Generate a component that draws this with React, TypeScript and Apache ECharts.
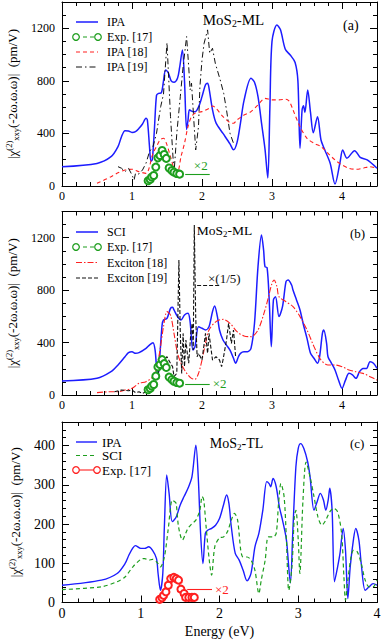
import React, { useEffect, useRef } from 'react';
import * as echarts from 'echarts';

const FONT = 'Liberation Serif, serif';
const BLUE = '#1c1cff';
const RED = '#ff2020';
const GREEN = '#1e9e1e';
const BLACK = '#111111';

// ---------- Panel (a): MoS2-ML ----------
const aIpaE = [0,0.5,0.7,0.8,0.85,0.9,0.95,1.0,1.05,1.1,1.15,1.2,1.22,1.25,1.27,1.29,1.32,1.35,1.38,1.42,1.45,1.48,1.52,1.56,1.6,1.65,1.68,1.72,1.75,1.78,1.8,1.82,1.85,1.9,1.95,2.0,2.05,2.08,2.1,2.15,2.2,2.3,2.4,2.45,2.5,2.55,2.6,2.7,2.75,2.8,2.85,2.9,2.94,2.97,3.0,3.07,3.12,3.19,3.26,3.33,3.37,3.4,3.43,3.45,3.47,3.51,3.55,3.59,3.65,3.7,3.75,3.83,3.9,3.97,4.01,4.07,4.18,4.26,4.36,4.5];
const aIpaV = [147,172,223,300,375,421,418,408,414,439,472,515,500,300,190,200,430,690,705,710,800,883,860,800,790,820,900,1035,800,430,500,580,570,565,600,680,770,782,745,580,480,400,320,275,330,480,650,820,790,680,480,280,60,600,1100,1225,1190,1040,997,940,800,288,580,610,560,730,560,406,527,350,280,175,15,175,274,212,269,218,198,135];

const aIpa18E = [0.5,0.7,0.8,0.9,1.0,1.1,1.2,1.3,1.35,1.4,1.45,1.5,1.55,1.6,1.65,1.7,1.75,1.8,1.85,1.9,2.0,2.1,2.15,2.2,2.3,2.4,2.45,2.5,2.6,2.7,2.8,2.9,3.0,3.1,3.2,3.25,3.3,3.4,3.5,3.6,3.7,3.8,3.9,4.0,4.1,4.2,4.3,4.4,4.5];
const aIpa18V = [20,71,101,122,127,109,96,249,300,350,363,312,223,135,109,223,325,452,528,553,566,591,609,591,528,482,477,503,540,566,617,667,655,655,660,642,579,452,363,325,300,249,198,160,135,127,135,147,135];

const aIpa19E = [0.8,0.85,0.9,0.95,1.0,1.03,1.05,1.1,1.15,1.2,1.25,1.3,1.35,1.41,1.45,1.5,1.55,1.6,1.64,1.69,1.73,1.78,1.81,1.83,1.85,1.88,1.91,1.95,1.97,2.0,2.03,2.08,2.11,2.15,2.19,2.26,2.31,2.35,2.4,2.45];
const aIpa19V = [147,135,109,135,84,46,96,91,122,173,261,300,401,604,700,1091,528,96,401,680,908,1137,908,731,782,528,274,452,756,959,1086,1188,1010,1048,934,807,705,579,401,325];

// Experiment [17] (x2), monolayer
const expE = [1.23,1.26,1.28,1.31,1.34,1.37,1.40,1.43,1.46,1.49,1.53,1.57,1.60,1.64,1.68];
const expV = [40,50,68,80,144,214,232,270,240,210,137,118,105,95,90];

// ---------- Panel (b): MoS2-ML ----------
const bSciE = [0,0.5,0.7,0.8,0.9,0.95,1.0,1.05,1.1,1.2,1.25,1.3,1.33,1.35,1.37,1.4,1.43,1.45,1.5,1.55,1.58,1.6,1.65,1.7,1.75,1.8,1.83,1.87,1.9,1.95,2.0,2.05,2.1,2.15,2.18,2.22,2.25,2.3,2.35,2.4,2.45,2.48,2.52,2.55,2.6,2.65,2.7,2.75,2.8,2.85,2.88,2.9,2.93,2.96,2.99,3.02,3.05,3.1,3.15,3.2,3.23,3.28,3.3,3.35,3.4,3.45,3.5,3.55,3.6,3.65,3.68,3.72,3.74,3.78,3.8,3.85,3.9,3.95,4.0,4.05,4.1,4.15,4.2,4.25,4.3,4.35,4.4,4.45,4.5];
const bSciV = [107,127,178,229,292,323,330,318,323,356,381,399,343,216,140,318,534,572,585,661,669,649,598,572,610,623,560,343,369,521,509,496,521,636,679,598,496,420,381,343,280,242,292,318,330,330,356,547,979,1221,1106,979,972,725,369,725,750,598,674,865,877,839,801,725,649,534,432,318,280,242,292,470,496,394,292,242,191,114,51,114,165,153,127,178,203,203,254,242,203];

const bExc18E = [0.5,0.7,0.8,0.9,1.0,1.1,1.2,1.3,1.35,1.4,1.45,1.5,1.55,1.6,1.65,1.7,1.75,1.8,1.85,1.9,1.95,2.0,2.05,2.1,2.2,2.3,2.4,2.5,2.6,2.7,2.8,2.9,2.95,3.0,3.03,3.07,3.1,3.2,3.3,3.4,3.5,3.6,3.7,3.8,3.9,4.0,4.1,4.2,4.3,4.4,4.5];
const bExc18V = [18,25,25,38,51,89,102,140,203,343,521,636,610,470,318,242,191,153,127,120,165,267,394,496,560,577,547,483,450,445,496,649,750,852,877,827,750,712,674,598,496,369,267,229,229,216,191,178,165,140,114];

const bExc19E = [0.75,0.85,0.95,1.0,1.05,1.1,1.15,1.2,1.25,1.3,1.35,1.4,1.45,1.5,1.55,1.58,1.6,1.64,1.67,1.69,1.71,1.73,1.75,1.77,1.79,1.81,1.84,1.86,1.875,1.89,1.91,1.93,1.95,2.0,2.05,2.08,2.1,2.15,2.2,2.25,2.28,2.3,2.35,2.38,2.42,2.45,2.48];
const bExc19V = [25,38,33,38,18,25,13,25,64,102,140,203,267,292,242,216,140,165,1030,470,165,470,216,420,318,242,470,547,343,1297,598,292,318,267,470,318,470,267,292,267,216,267,420,547,394,496,292];

// ---------- Panel (c): MoS2-TL ----------
const cIpaE = [0,0.5,0.7,0.8,0.85,0.9,0.93,1.0,1.05,1.1,1.15,1.2,1.22,1.25,1.28,1.3,1.33,1.36,1.4,1.45,1.5,1.55,1.6,1.65,1.7,1.73,1.76,1.79,1.82,1.85,1.9,1.95,2.0,2.05,2.09,2.12,2.15,2.2,2.25,2.3,2.35,2.4,2.45,2.5,2.55,2.6,2.63,2.65,2.68,2.72,2.76,2.8,2.85,2.9,2.93,2.97,3.0,3.03,3.07,3.12,3.15,3.2,3.24,3.28,3.32,3.35,3.38,3.4,3.43,3.46,3.5,3.53,3.57,3.6,3.63,3.66,3.7,3.73,3.77,3.8,3.85,3.9,3.95,4.0];
const cIpaV = [44,57,74,99,121,139,145,138,138,142,133,112,74,31,74,193,325,278,206,218,248,270,291,320,401,320,176,99,176,184,189,197,214,248,274,252,193,125,108,82,55,74,142,176,235,308,303,295,316,295,244,210,159,50,176,346,393,405,393,358,320,235,257,278,261,235,261,291,235,53,91,125,189,133,10,91,159,189,159,99,31,40,48,44];

const cSciE = [0,0.5,0.7,0.8,0.9,1.0,1.05,1.1,1.15,1.2,1.25,1.3,1.35,1.4,1.43,1.45,1.48,1.53,1.57,1.6,1.65,1.7,1.75,1.78,1.8,1.83,1.87,1.9,1.94,2.0,2.05,2.1,2.15,2.19,2.23,2.27,2.3,2.35,2.4,2.45,2.5,2.53,2.58,2.62,2.68,2.72,2.75,2.78,2.82,2.85,2.88,2.92,2.95,2.97,3.0,3.02,3.06,3.1,3.15,3.2,3.25,3.3,3.35,3.4,3.45,3.5,3.55,3.58,3.6,3.63,3.67,3.7,3.75,3.8,3.85,3.9,3.95,4.0];
const cSciV = [33,40,53,65,91,110,112,108,110,104,91,116,189,261,257,252,193,159,176,189,201,210,235,270,261,193,108,70,142,165,167,180,210,227,210,133,116,116,108,82,23,57,108,167,167,176,252,303,270,159,31,91,218,235,159,74,261,358,320,270,218,197,210,231,240,231,176,65,6,57,116,133,129,99,57,40,40,57];

const cExpE = [1.24,1.27,1.29,1.32,1.35,1.38,1.42,1.45,1.48,1.51,1.55,1.57,1.61,1.65,1.68];
const cExpV = [8,12,18,27,44,61,64,61,57,34,23,13,13,13,13];

// axis ranges / ticks
const abXMax = 4.5;
const cXMax = 4;
const abYMax = 1400;
const cYMax = 460;

const pairs = (xs: number[], ys: number[]) => xs.map((x, i) => [x, ys[i]]);

const Y_NAME = '{t||χ}{sp|(2)}{sb|xxy}{t|(-2ω.ω.ω)|  (pm/V)}';

function xAxes(grid: number, max: number, fontSize: number, name?: string) {
  const common: any = { type: 'value', gridIndex: grid, min: 0, max, splitLine: { show: false } };
  const line = { show: true, onZero: false, lineStyle: { color: '#000', width: 1 } };
  const noLine = { show: false, onZero: false };
  const tick = (len: number) => ({ show: true, inside: true, length: len, lineStyle: { color: '#000', width: 1 } });
  return [
    {
      ...common, position: 'bottom', interval: 1, axisLine: line, axisTick: tick(7),
      axisLabel: { show: true, color: '#000', fontFamily: FONT, fontSize, margin: 4,
        formatter: (v: number) => (Math.abs(v - Math.round(v)) < 1e-6 ? String(Math.round(v)) : '') },
      name: name || '', nameLocation: 'middle', nameGap: 22,
      nameTextStyle: { color: '#000', fontFamily: FONT, fontSize: 14 },
    },
    { ...common, position: 'bottom', interval: 0.2, axisLine: noLine, axisTick: tick(4), axisLabel: { show: false } },
    { ...common, position: 'top', interval: 1, axisLine: line, axisTick: tick(7), axisLabel: { show: false } },
    { ...common, position: 'top', interval: 0.2, axisLine: noLine, axisTick: tick(4), axisLabel: { show: false } },
  ];
}

function yAxes(grid: number, max: number, major: number, minor: number, fontSize: number) {
  const common: any = { type: 'value', gridIndex: grid, min: 0, max, splitLine: { show: false } };
  const line = { show: true, onZero: false, lineStyle: { color: '#000', width: 1 } };
  const noLine = { show: false, onZero: false };
  const tick = (len: number) => ({ show: true, inside: true, length: len, lineStyle: { color: '#000', width: 1 } });
  return [
    {
      ...common, position: 'left', interval: major, axisLine: line, axisTick: tick(7),
      axisLabel: { show: true, color: '#000', fontFamily: FONT, fontSize, margin: 7,
        formatter: (v: number) => (Math.abs(v % major) < 1e-6 ? String(v) : '') },
      name: Y_NAME, nameLocation: 'middle', nameGap: 37, nameRotate: 90,
      nameTextStyle: {
        color: '#000', fontFamily: FONT, fontSize: 13,
        rich: {
          t: { color: '#000', fontFamily: FONT, fontSize: 13 },
          sp: { color: '#000', fontFamily: FONT, fontSize: 8.5, padding: [0, 0, 7, 0] },
          sb: { color: '#000', fontFamily: FONT, fontSize: 8.5, padding: [7, 0, 0, 0] },
        },
      },
    },
    { ...common, position: 'left', interval: minor, axisLine: noLine, axisTick: tick(4), axisLabel: { show: false } },
    { ...common, position: 'right', interval: major, axisLine: line, axisTick: tick(7), axisLabel: { show: false } },
    { ...common, position: 'right', interval: minor, axisLine: noLine, axisTick: tick(4), axisLabel: { show: false } },
  ];
}

function lineSeries(grid: number, data: number[][], color: string, width: number, type: any, smooth: any, extra: any = {}) {
  return {
    type: 'line', xAxisIndex: grid * 4, yAxisIndex: grid * 4, data,
    showSymbol: false, symbol: 'none', smooth,
    lineStyle: { color, width, type },
    itemStyle: { color },
    silent: true,
    ...extra,
  };
}

function expSeries(grid: number, data: number[][], color: string, lineType: any, arrow: any) {
  return {
    type: 'line', xAxisIndex: grid * 4, yAxisIndex: grid * 4, data,
    symbol: 'emptyCircle', symbolSize: 7, showSymbol: true, smooth: false,
    lineStyle: { color, width: 1.1, type: lineType },
    itemStyle: { color, borderColor: color, borderWidth: 1.2 },
    silent: true,
    markLine: arrow,
  };
}

function arrowMark(color: string, x1: number, x2: number, y: number, text: string, label: any, lineType: any = 'solid') {
  return {
    silent: true,
    symbol: ['arrow', 'none'],
    symbolSize: [8, 0],
    lineStyle: { color, width: 1.1, type: lineType },
    emphasis: { disabled: true },
    label: { show: !!text, formatter: text, color, fontFamily: FONT, fontSize: 13, ...label },
    data: [[{ coord: [x1, y] }, { coord: [x2, y] }]],
  };
}

// legend / annotation graphics (decorations only)
function legendGraphics(rows: any[], x1: number, x2: number, tx: number, fontSize: number) {
  const els: any[] = [];
  rows.forEach((r) => {
    els.push({
      type: 'line', silent: true,
      shape: { x1, y1: r.y, x2, y2: r.y },
      style: { stroke: r.color, lineWidth: r.width, lineDash: r.dash || null },
    });
    if (r.circles) {
      [x1, x2].forEach((cx) =>
        els.push({
          type: 'circle', silent: true, shape: { cx, cy: r.y, r: 3.3 },
          style: { fill: '#fff', stroke: r.color, lineWidth: 1.2 },
        })
      );
    }
    els.push({
      type: 'text', silent: true, x: tx, y: r.y,
      style: { text: r.label, fill: '#000', font: `${fontSize}px ${FONT}`, align: 'left', verticalAlign: 'middle' },
    });
  });
  return els;
}

function titleText(x: number, y: number, b: string, fontSize: number) {
  return {
    type: 'text', silent: true, x, y,
    style: {
      text: `{m|MoS}{s|2}{m|${b}}`,
      align: 'center', verticalAlign: 'middle',
      rich: {
        m: { fontFamily: FONT, fontSize, fill: '#000', color: '#000' },
        s: { fontFamily: FONT, fontSize: fontSize * 0.65, fill: '#000', color: '#000', padding: [7, 0, 0, 0] },
      },
      fill: '#000',
    },
  };
}

function tagText(x: number, y: number, t: string, fontSize: number, color = '#000') {
  return {
    type: 'text', silent: true, x, y,
    style: { text: t, fill: color, font: `${fontSize}px ${FONT}`, align: 'left', verticalAlign: 'middle' },
  };
}

export default function App() {
  const ref = useRef<HTMLDivElement>(null);

  useEffect(() => {
    if (!ref.current) return;
    const chart = echarts.init(ref.current, undefined, { renderer: 'svg' });

    const dashA = [4, 3];
    const dashDot = [6, 3, 1.5, 3];

    const option: any = {
      animation: false,
      backgroundColor: '#fff',
      textStyle: { fontFamily: FONT },
      grid: [
        { left: 62, top: 2, width: 315, height: 184, outerBoundsMode: 'none', containLabel: false },
        { left: 62, top: 211.5, width: 315, height: 183.5, outerBoundsMode: 'none', containLabel: false },
        { left: 62, top: 422, width: 315, height: 180.5, outerBoundsMode: 'none', containLabel: false },
      ],
      xAxis: [
        ...xAxes(0, abXMax, 12),
        ...xAxes(1, abXMax, 12),
        ...xAxes(2, cXMax, 14, 'Energy (eV)'),
      ],
      yAxis: [
        ...yAxes(0, abYMax, 400, 100, 12),
        ...yAxes(1, abYMax, 400, 100, 12),
        ...yAxes(2, cYMax, 100, 20, 14),
      ],
      series: [
        // (a)
        lineSeries(0, pairs(aIpaE, aIpaV), BLUE, 1.5, 'solid', 0.3, { name: 'IPA' }),
        lineSeries(0, pairs(aIpa18E, aIpa18V), RED, 1.1, dashA, 0.3, { name: 'IPA [18]' }),
        lineSeries(0, pairs(aIpa19E, aIpa19V), BLACK, 1, dashDot, false, { name: 'IPA [19]' }),
        {
          ...expSeries(0, pairs(expE, expV), GREEN, dashA,
            arrowMark(GREEN, 1.76, 2.11, 89, '×2', { position: 'insideEndTop', distance: 2 })),
          name: 'Exp. [17]',
        },
        // (b)
        lineSeries(1, pairs(bSciE, bSciV), BLUE, 1.5, 'solid', 0.3, { name: 'SCI' }),
        lineSeries(1, pairs(bExc18E, bExc18V), RED, 1.1, [6, 2, 1.5, 2], 0.3, { name: 'Exciton [18]' }),
        {
          ...lineSeries(1, pairs(bExc19E, bExc19V), BLACK, 1.1, [4, 2], false),
          name: 'Exciton [19]',
          markLine: arrowMark(BLACK, 1.93, 2.25, 839, '', {}, [4, 2]),
        },
        {
          ...expSeries(1, pairs(expE, expV), GREEN, dashA,
            arrowMark(GREEN, 1.76, 2.11, 84, '×2', { position: 'end', distance: 3 })),
          name: 'Exp. [17]',
        },
        // (c)
        lineSeries(2, pairs(cIpaE, cIpaV), BLUE, 1.4, 'solid', 0.3, { name: 'IPA' }),
        lineSeries(2, pairs(cSciE, cSciV), GREEN, 1.2, dashA, 0.3, { name: 'SCI' }),
        {
          ...expSeries(2, pairs(cExpE, cExpV), RED, 'solid',
            arrowMark(RED, 1.59, 1.905, 34, '×2', { position: 'end', distance: 3 })),
          name: 'Exp. [17]',
        },
      ],
      graphic: [
        ...legendGraphics([
          { y: 22, label: 'IPA', color: BLUE, width: 1.5 },
          { y: 37, label: 'Exp. [17]', color: GREEN, width: 1.1, dash: dashA, circles: true },
          { y: 52, label: 'IPA [18]', color: RED, width: 1.1, dash: dashA },
          { y: 67, label: 'IPA [19]', color: BLACK, width: 1, dash: dashDot },
        ], 76, 98, 107, 12),
        ...legendGraphics([
          { y: 232, label: 'SCI', color: BLUE, width: 1.5 },
          { y: 247, label: 'Exp. [17]', color: GREEN, width: 1.1, dash: dashA, circles: true },
          { y: 262.5, label: 'Exciton [18]', color: RED, width: 1.1, dash: [6, 2, 1.5, 2] },
          { y: 278, label: 'Exciton [19]', color: BLACK, width: 1.1, dash: [4, 2] },
        ], 76, 98, 107, 12),
        ...legendGraphics([
          { y: 442, label: 'IPA', color: BLUE, width: 1.4 },
          { y: 455.5, label: 'SCI', color: GREEN, width: 1.2, dash: dashA },
          { y: 470, label: 'Exp. [17]', color: RED, width: 1.1, circles: true },
        ], 76, 97, 102, 13),
        titleText(233.5, 20, '-ML', 15),
        titleText(224.5, 230, '-ML', 13.5),
        titleText(236.5, 443, '-TL', 14),
        tagText(343, 25, '(a)', 14),
        tagText(350, 233, '(b)', 13),
        tagText(350, 443, '(c)', 13),
        tagText(208, 278, '×(1/5)', 13, BLACK),
      ],
    };

    chart.setOption(option);
    return () => {
      chart.dispose();
    };
  }, []);

  return (
    <div
      ref={ref}
      style={{ position: 'absolute', left: 0, top: 0, width: 382, height: 640, background: '#fff' }}
    />
  );
}
